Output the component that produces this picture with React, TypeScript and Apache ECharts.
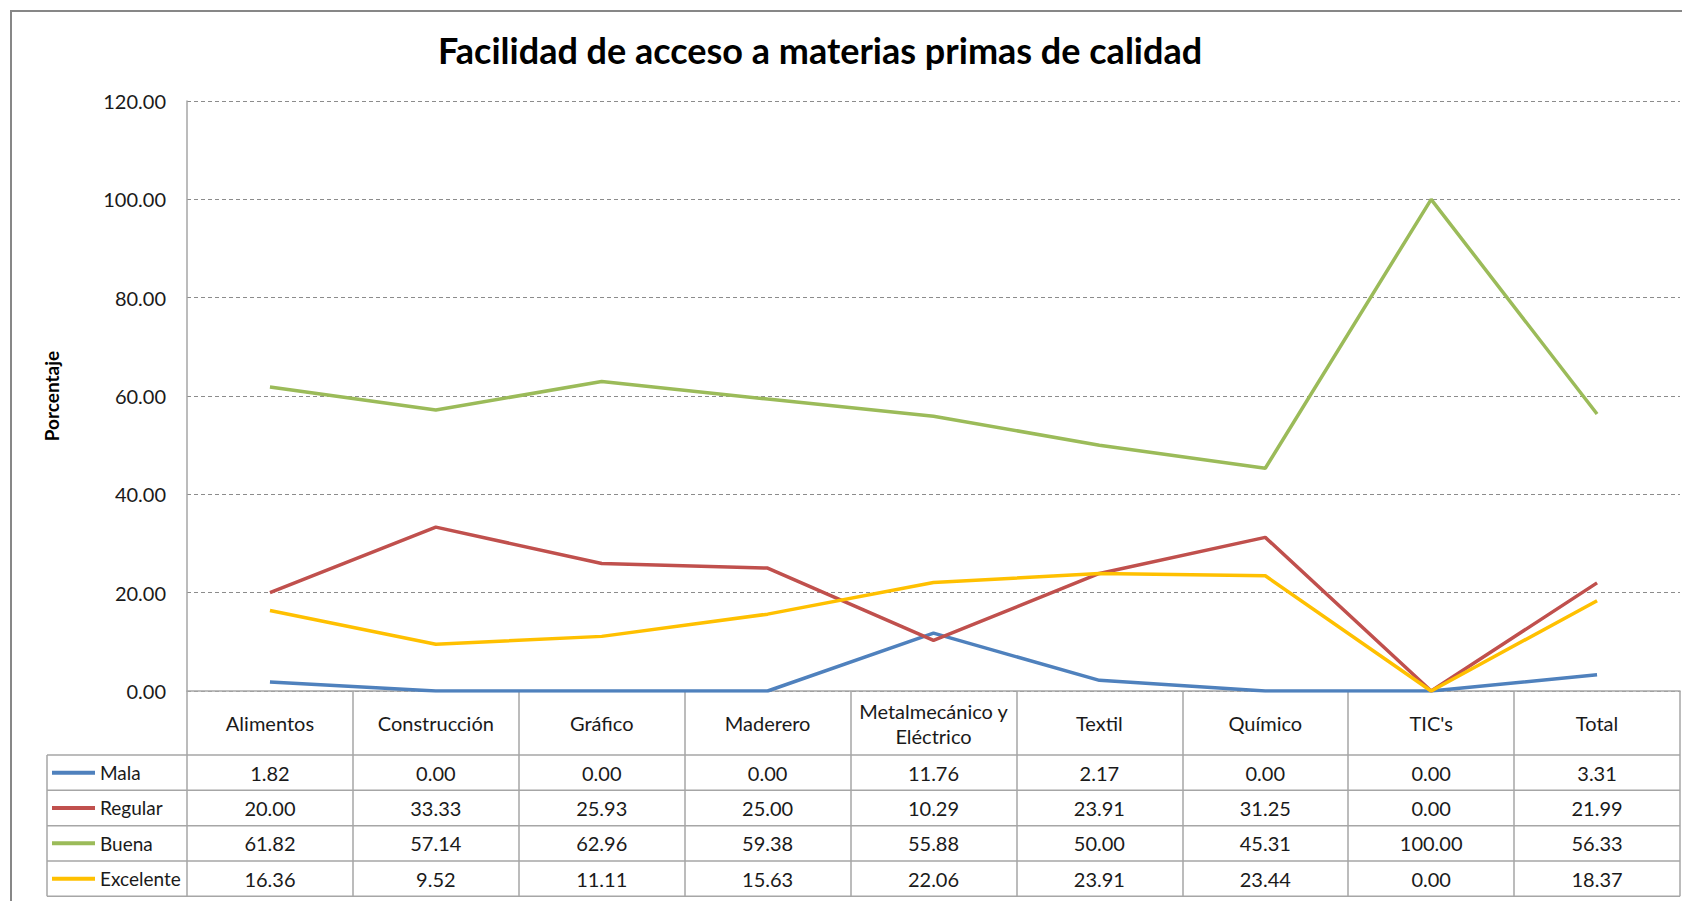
import React, { useEffect, useRef } from "react";
import * as echarts from "echarts";

const categories = [
  "Alimentos",
  "Construcción",
  "Gráfico",
  "Maderero",
  "Metalmecánico y\nEléctrico",
  "Textil",
  "Químico",
  "TIC's",
  "Total",
];
const seriesNames = ["Mala", "Regular", "Buena", "Excelente"];
const mala = [1.82, 0.0, 0.0, 0.0, 11.76, 2.17, 0.0, 0.0, 3.31];
const regular = [20.0, 33.33, 25.93, 25.0, 10.29, 23.91, 31.25, 0.0, 21.99];
const buena = [61.82, 57.14, 62.96, 59.38, 55.88, 50.0, 45.31, 100.0, 56.33];
const excelente = [16.36, 9.52, 11.11, 15.63, 22.06, 23.91, 23.44, 0.0, 18.37];
const yTickValues = [0, 20, 40, 60, 80, 100, 120];
const titleText = "Facilidad de acceso a materias primas de calidad";
const yAxisTitle = "Porcentaje";

const seriesValues = [mala, regular, buena, excelente];
const seriesColors = ["#4F81BD", "#C0504D", "#9BBB59", "#FFC000"];

const FONT = "Lato";
const TEXT = "#1a1a1a";
const TABLE_LINE = "#A6A6A6";
const LABEL_SIZE = 20;

// layout
const W = 1682;
const H = 901;
const PLOT_LEFT = 187;
const PLOT_RIGHT = 1680;
const PLOT_TOP = 101;
const PLOT_BOTTOM = 691;
const TABLE_TOP = 755;
const ROW_H = 35.33;
const LEGEND_COL_LEFT = 47;

export default function App() {
  const ref = useRef<HTMLDivElement>(null);

  useEffect(() => {
    document.body.style.margin = "0";
    document.body.style.overflow = "hidden";
    const chart = echarts.init(ref.current!, null, { renderer: "svg" });

    const rowCenter = (i: number) => TABLE_TOP + ROW_H * (i + 0.5);

    const valueAxes = seriesValues.map((vals, i) => ({
      type: "category",
      gridIndex: 0,
      position: "bottom",
      offset: rowCenter(i) - PLOT_BOTTOM,
      data: categories,
      boundaryGap: true,
      axisLine: { show: false },
      axisTick: { show: false },
      splitLine: { show: false },
      axisLabel: {
        interval: 0,
        margin: 0,
        verticalAlign: "middle",
        fontFamily: FONT,
        fontSize: LABEL_SIZE,
        color: TEXT,
        formatter: (_v: string, idx: number) => vals[idx].toFixed(2),
      },
    }));

    const tableBottom = TABLE_TOP + ROW_H * seriesValues.length;
    const hLines = [];
    for (let i = 0; i <= seriesValues.length; i++) {
      const y = TABLE_TOP + ROW_H * i;
      hLines.push({
        type: "line",
        shape: { x1: LEGEND_COL_LEFT, y1: y, x2: PLOT_RIGHT, y2: y },
        style: { stroke: TABLE_LINE, lineWidth: 1.5 },
        silent: true,
      });
    }

    const option: any = {
      animation: false,
      backgroundColor: "#ffffff",
      graphic: [
        {
          type: "rect",
          shape: { x: 11, y: 11, width: 1700, height: 1000 },
          style: { fill: "none", stroke: "#878787", lineWidth: 2 },
          silent: true,
        },
        {
          type: "text",
          x: 820,
          y: 50,
          style: {
            text: titleText,
            fontFamily: FONT,
            fontWeight: "bold",
            fontSize: 36,
            fill: "#000",
            textAlign: "center",
            textVerticalAlign: "middle",
          },
          silent: true,
        },
        ...hLines,
        {
          type: "line",
          shape: { x1: LEGEND_COL_LEFT, y1: TABLE_TOP, x2: LEGEND_COL_LEFT, y2: tableBottom },
          style: { stroke: TABLE_LINE, lineWidth: 1.5 },
          silent: true,
        },
      ],
      legend: {
        orient: "vertical",
        left: 52,
        top: rowCenter(0) - 11,
        padding: 0,
        itemWidth: 43,
        itemHeight: 4,
        itemGap: ROW_H - 22,
        itemTextGap: 4,
        icon: "rect",
        selectedMode: false,
        data: seriesNames,
        textStyle: { fontFamily: FONT, fontSize: 19, lineHeight: 22, color: TEXT },
      },
      grid: {
        left: PLOT_LEFT,
        right: W - PLOT_RIGHT,
        top: PLOT_TOP,
        bottom: H - PLOT_BOTTOM,
        containLabel: false,
      },
      xAxis: [
        {
          type: "category",
          data: categories,
          boundaryGap: true,
          position: "bottom",
          axisLine: { show: true, lineStyle: { color: TABLE_LINE, width: 1.5 } },
          axisTick: {
            show: true,
            interval: 0,
            length: tableBottom - PLOT_BOTTOM,
            lineStyle: { color: TABLE_LINE, width: 1.5 },
          },
          axisLabel: {
            interval: 0,
            margin: (TABLE_TOP - PLOT_BOTTOM) / 2,
            verticalAlign: "middle",
            fontFamily: FONT,
            fontSize: LABEL_SIZE,
            lineHeight: 25,
            color: TEXT,
          },
          splitLine: { show: false },
        },
        ...valueAxes,
      ],
      yAxis: {
        type: "value",
        min: yTickValues[0],
        max: yTickValues[yTickValues.length - 1],
        interval: yTickValues[1] - yTickValues[0],
        name: yAxisTitle,
        nameLocation: "middle",
        nameRotate: 90,
        nameGap: 126,
        nameTextStyle: { fontFamily: FONT, fontWeight: "bold", fontSize: 19, color: "#000" },
        axisLine: { show: true, lineStyle: { color: TABLE_LINE, width: 1.5 } },
        axisTick: { show: false },
        axisLabel: {
          margin: 21,
          fontFamily: FONT,
          fontSize: LABEL_SIZE,
          color: TEXT,
          formatter: (v: number) => v.toFixed(2),
        },
        splitLine: { show: true, lineStyle: { color: "#8C8C8C", type: [4, 3], width: 1 } },
      },
      series: seriesValues.map((vals, i) => ({
        name: seriesNames[i],
        type: "line",
        xAxisIndex: 0,
        data: vals,
        color: seriesColors[i],
        symbol: "none",
        lineStyle: { width: 3.5, color: seriesColors[i] },
        z: 3,
      })),
    };

    chart.setOption(option);
    return () => chart.dispose();
  }, []);

  return (
    <div
      ref={ref}
      style={{ position: "absolute", left: 0, top: 0, width: W, height: H }}
    />
  );
}
